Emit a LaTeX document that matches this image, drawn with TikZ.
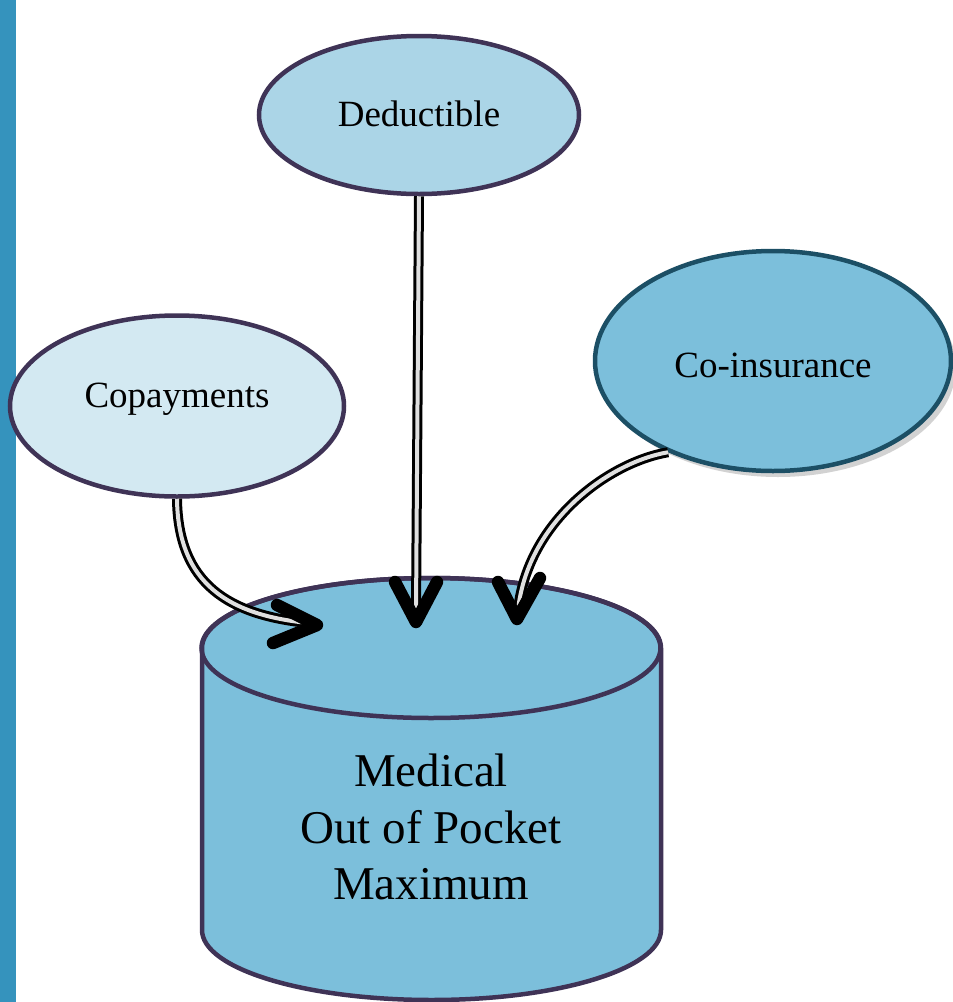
\documentclass[tikz,border=0pt]{standalone}
\usepackage{fontspec}
\setmainfont{Liberation Serif}
\usetikzlibrary{shapes.geometric,shadows}
\definecolor{barblue}{HTML}{3593BD}
\definecolor{dedfill}{HTML}{ABD5E7}
\definecolor{copfill}{HTML}{D3E9F2}
\definecolor{midfill}{HTML}{7CBFDB}
\definecolor{purpleline}{HTML}{3F3356}
\definecolor{tealline}{HTML}{1C4F65}
\definecolor{innergray}{HTML}{E0E0E0}
\newcommand\baselineat[2]{\smash{\raisebox{#1}{#2}}}
\tikzset{
  oval/.style={ellipse, draw=purpleline, line width=4.5pt, inner sep=0pt, font=\fontsize{37}{44}\selectfont},
  dbl/.style={draw=black, line width=3pt, double=innergray, double distance=4pt},
  vhead/.style={draw=black, line width=12.5pt, line cap=round, line join=round},
}
\begin{document}
\begin{tikzpicture}[x=1pt,y=1pt]
\useasboundingbox (0,0) rectangle (953,-1002);
\fill[barblue] (0,0) rectangle (16,-1002);

% cylinder
\filldraw[fill=midfill, draw=purpleline, line width=4.5pt]
  (202,-648) -- (202,-930) arc[start angle=180, end angle=360, x radius=229.5, y radius=70]
  -- (661,-648) arc[start angle=0, end angle=180, x radius=229.5, y radius=70] -- cycle;
\draw[purpleline, line width=4.5pt] (431,-648) ellipse[x radius=229.5, y radius=70];
\node[align=center, font=\fontsize{47}{56.5}\selectfont] (maxnode) at (431,-827)
  {Medical\\Out of Pocket\\Maximum};

% ovals
\node[oval, fill=dedfill, minimum width=320pt, minimum height=158pt] (deduct) at (419,-115) {\baselineat{-11pt}{Deductible}};
\node[oval, fill=copfill, minimum width=334pt, minimum height=181pt] (copay) at (177,-406) {\baselineat{-1pt}{Copayments}};
\node[oval, fill=midfill, draw=tealline, minimum width=356pt, minimum height=220pt,
  drop shadow={shadow xshift=5pt, shadow yshift=-6pt, fill=gray!70}] (coins) at (773,-361) {\baselineat{-16pt}{Co-insurance}};

% tip coordinates
\coordinate (tipD) at (416,-622);
\coordinate (tipC) at (317,-625);
\coordinate (tipI) at (517,-619);

% connectors
\draw[dbl] (deduct.south) -- (416,-612);
\draw[vhead] (395,-582) -- (tipD) -- (437,-582);

\draw[dbl] (copay.south) .. controls (178,-585) and (230,-615) .. (308,-623);
\draw[vhead] (277,-605) -- (tipC) -- (273,-643);

\draw[dbl] (coins.221) .. controls (610,-462) and (528,-520) .. (518,-610);
\draw[vhead] (498,-582) -- (tipI) -- (540,-578);
\end{tikzpicture}
\end{document}
